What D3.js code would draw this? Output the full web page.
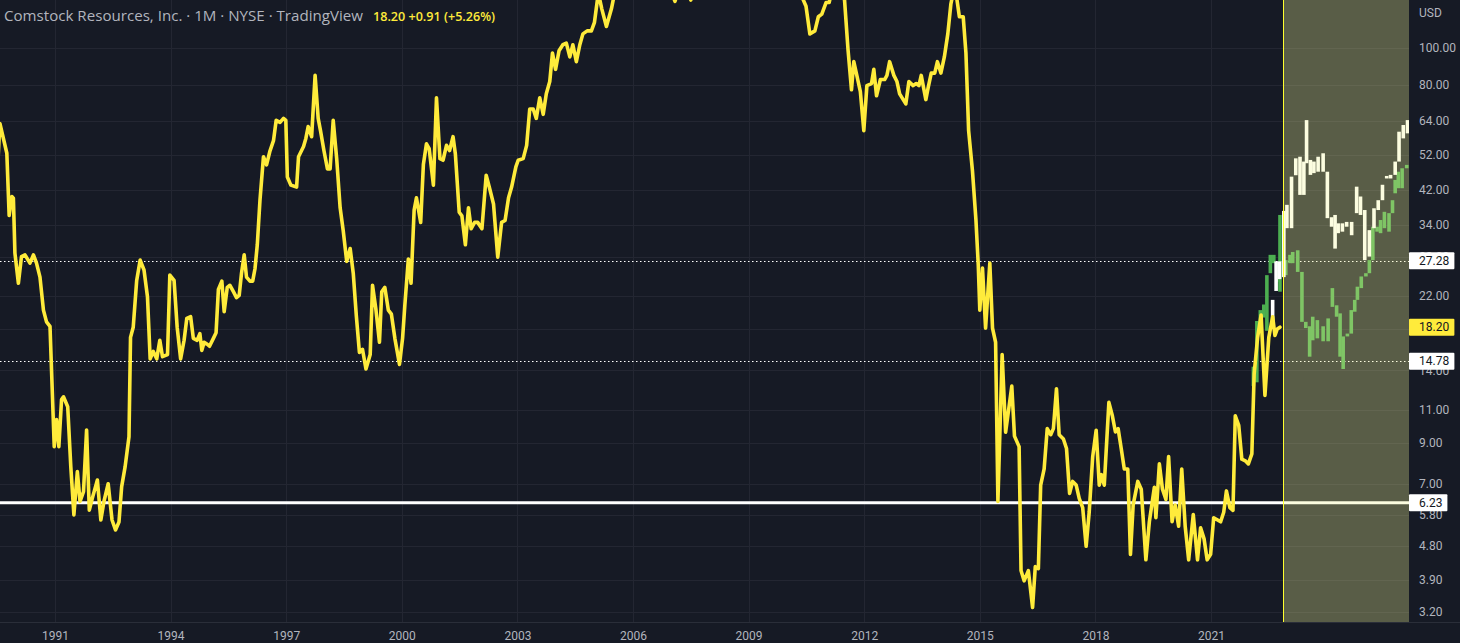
<!DOCTYPE html>
<html><head><meta charset="utf-8">
<script src="https://cdn.jsdelivr.net/npm/d3@7"></script>
<style>html,body{margin:0;padding:0;background:#161a25;overflow:hidden}</style>
</head><body>
<svg id="c" width="1460" height="643"></svg>
<script>
// ---- data (decimal years, USD) ----
const priceDates = [1989.49,1989.57,1989.75,1989.81,1989.88,1989.92,1989.96,1990.05,1990.13,1990.22,1990.35,1990.44,1990.52,1990.61,1990.70,1990.78,1990.87,1990.98,1991.04,1991.10,1991.17,1991.22,1991.33,1991.41,1991.49,1991.58,1991.65,1991.74,1991.82,1991.89,1991.98,1992.10,1992.19,1992.27,1992.38,1992.48,1992.57,1992.66,1992.73,1992.82,1992.92,1992.96,1993.03,1993.12,1993.21,1993.31,1993.40,1993.47,1993.55,1993.64,1993.72,1993.79,1993.92,1993.98,1994.09,1994.17,1994.26,1994.35,1994.42,1994.52,1994.59,1994.69,1994.76,1994.81,1994.87,1994.95,1995.01,1995.11,1995.18,1995.24,1995.33,1995.39,1995.47,1995.54,1995.63,1995.71,1995.78,1995.84,1995.91,1995.97,1996.06,1996.13,1996.19,1996.25,1996.32,1996.41,1996.49,1996.58,1996.67,1996.74,1996.84,1996.93,1996.99,1997.03,1997.12,1997.27,1997.32,1997.45,1997.51,1997.57,1997.66,1997.75,1997.83,1997.89,1997.98,1998.07,1998.14,1998.22,1998.31,1998.40,1998.48,1998.57,1998.66,1998.74,1998.82,1998.90,1998.98,1999.07,1999.18,1999.24,1999.33,1999.42,1999.48,1999.56,1999.65,1999.73,1999.82,1999.94,2000.02,2000.08,2000.17,2000.24,2000.32,2000.38,2000.49,2000.56,2000.64,2000.71,2000.82,2000.90,2000.99,2001.07,2001.16,2001.24,2001.33,2001.39,2001.49,2001.56,2001.65,2001.73,2001.80,2001.89,2001.97,2002.08,2002.19,2002.27,2002.38,2002.49,2002.59,2002.68,2002.77,2002.85,2002.96,2003.02,2003.15,2003.24,2003.32,2003.41,2003.49,2003.58,2003.67,2003.75,2003.84,2003.91,2003.99,2004.08,2004.18,2004.27,2004.36,2004.44,2004.53,2004.62,2004.70,2004.81,2004.92,2005.00,2005.10,2005.19,2005.31,2005.44,2005.53,2005.65,2005.75,2005.90,2006.05,2006.25,2006.45,2006.65,2006.85,2007.00,2007.09,2007.20,2007.35,2007.50,2007.65,2007.85,2008.05,2008.25,2008.45,2008.60,2008.75,2008.90,2009.05,2009.20,2009.40,2009.60,2009.80,2010.00,2010.20,2010.38,2010.49,2010.59,2010.72,2010.81,2010.90,2011.01,2011.09,2011.15,2011.30,2011.49,2011.58,2011.67,2011.73,2011.82,2011.90,2011.99,2012.07,2012.19,2012.25,2012.32,2012.42,2012.53,2012.59,2012.66,2012.77,2012.85,2012.92,2013.08,2013.16,2013.27,2013.35,2013.42,2013.48,2013.60,2013.66,2013.74,2013.83,2013.90,2013.99,2014.08,2014.17,2014.25,2014.31,2014.40,2014.47,2014.57,2014.64,2014.71,2014.81,2014.90,2014.96,2015.00,2015.07,2015.15,2015.26,2015.33,2015.41,2015.47,2015.58,2015.67,2015.83,2015.90,2016.02,2016.07,2016.15,2016.26,2016.37,2016.44,2016.52,2016.58,2016.67,2016.75,2016.84,2016.91,2016.99,2017.06,2017.17,2017.25,2017.33,2017.41,2017.50,2017.58,2017.67,2017.76,2017.84,2017.93,2018.02,2018.10,2018.16,2018.23,2018.35,2018.44,2018.52,2018.59,2018.67,2018.75,2018.84,2018.91,2018.98,2019.10,2019.19,2019.31,2019.40,2019.53,2019.57,2019.66,2019.74,2019.83,2019.90,2019.99,2020.07,2020.16,2020.24,2020.33,2020.42,2020.54,2020.65,2020.73,2020.82,2020.90,2020.99,2021.07,2021.16,2021.25,2021.33,2021.40,2021.49,2021.57,2021.63,2021.72,2021.80,2021.89,2021.97,2022.06,2022.12,2022.21,2022.30,2022.40,2022.50,2022.60,2022.66,2022.72,2022.79];
const priceValues = [44,63.1,52.6,36.0,40.4,40.0,28.6,23.8,28.0,28.3,26.9,28.3,26.9,24.7,20.2,18.8,18.3,8.78,10.35,8.78,11.7,11.9,11.2,7.77,5.79,7.54,6.28,6.67,9.72,5.96,6.47,7.16,5.61,6.28,7.0,5.61,5.28,5.54,6.88,7.77,9.33,17.1,18.2,24.2,27.4,25.8,21.9,15.0,15.7,15.0,16.8,15.2,15.4,25.0,24.2,18.2,15.0,16.8,19.2,19.4,17.0,16.8,17.5,15.8,16.6,16.4,16.2,17.0,17.6,22.9,24.1,20.0,23.2,23.5,22.6,21.8,22.1,25.3,28.3,24.7,24.1,24.1,26.0,30.1,39.6,51.5,49.0,53.4,56.8,64.3,63.5,65.1,64.3,45.5,43.3,42.8,51.5,54.8,57.6,61.9,58.2,84.6,65.1,60.4,53.4,47.8,47.8,64.3,50.9,37.7,32.8,27.2,29.4,25.3,19.5,15.6,15.9,14.1,15.4,23.5,20.2,16.6,22.6,23.2,20.2,19.7,17.0,14.5,17.0,20.9,27.6,23.8,37.2,40.1,34.5,49.1,55.7,54.1,43.3,73.8,50.9,50.4,55.2,53.5,58.2,52.4,36.7,35.9,30.1,37.7,33.2,34.5,34.5,33.2,46.0,42.8,38.6,27.9,34.5,34.9,40.1,42.8,48.4,50.4,50.9,55.2,68.9,68.9,65.1,73.8,66.7,75.6,81.5,97.0,87.8,98.3,102,103,94.7,102,92.0,102,109,111,111,117,140,127,114,127,141,165,180,150,145,160,150,142,150,140,133,145,150,134,150,175,190,280,420,300,220,170,160,145,170,180,200,170,150,137,129,109,111,121,123,132,132,140,150,134,99,77.5,92.0,83.6,76.6,60.4,79.5,80.5,87.8,74.7,82.5,82.5,84.6,92.0,84.6,81.5,75.6,71.1,81.5,79.5,80.5,79.5,84.6,73.0,78.5,85.8,85.8,92.0,85.8,94.7,109,131,140,136,121,121,97.0,60.4,47.2,35.0,26.6,20.2,26.1,18.1,26.9,18.1,16.6,6.28,15.4,9.59,12.7,9.36,8.78,4.12,3.87,4.12,3.29,4.22,4.17,6.94,7.66,9.80,9.44,9.80,12.5,9.44,9.2,8.68,6.6,7.1,6.95,6.4,6.05,4.78,5.9,8.26,9.7,6.94,7.4,6.94,11.5,10.6,9.6,9.8,8.68,7.66,7.66,4.55,6.15,7.1,6.77,4.4,5.55,6.85,5.69,7.9,6.77,6.36,8.26,5.55,6.15,5.4,7.66,5.4,4.4,5.8,4.4,5.35,5.0,4.4,4.55,5.69,5.62,5.55,5.88,6.7,6.05,5.95,10.6,10.0,8.13,8.05,7.9,8.4,13.7,17.1,19.6,12.0,17.1,19.4,17.3,18.0,18.2];

const whiteDates = [2022.60,2022.69,2022.78,2022.89,2022.97,2023.09,2023.20,2023.31,2023.41,2023.48,2023.58,2023.67,2023.78,2023.91,2024.02,2024.13,2024.22,2024.30,2024.41,2024.52,2024.65,2024.78,2024.88,2024.99,2025.11,2025.23,2025.34,2025.45,2025.56,2025.66,2025.78,2025.88,2025.99,2026.10];
const whiteHigh  = [21.5,27.2,27.2,37.0,38.4,45.6,51.0,51.5,50.0,64.4,50.5,50.0,51.5,52.6,47.0,35.6,36.1,34.3,34.3,34.6,34.6,42.9,40.4,37.2,32.9,37.6,39.5,43.4,45.8,46.1,50.0,60.0,62.5,64.4];
const whiteLow   = [18.3,22.7,24.4,24.7,33.3,33.3,46.0,40.8,40.8,49.5,46.1,46.6,47.0,47.0,35.4,33.6,29.4,32.3,32.6,33.6,31.9,36.5,36.1,27.4,28.0,33.3,37.2,39.5,45.1,45.1,46.1,50.0,57.6,59.4];

const greenDates = [2022.10,2022.19,2022.28,2022.37,2022.45,2022.54,2022.63,2022.71,2022.79,2022.94,2023.05,2023.12,2023.25,2023.36,2023.46,2023.56,2023.64,2023.76,2023.91,2024.04,2024.15,2024.26,2024.35,2024.43,2024.54,2024.64,2024.73,2024.80,2024.90,2025.02,2025.11,2025.20,2025.31,2025.40,2025.50,2025.62,2025.71,2025.78,2025.86,2025.96,2026.08];
const greenHigh  = [14.3,18.9,20.2,20.9,25.0,28.3,28.3,27.0,36.1,27.4,28.3,28.8,29.1,25.5,18.8,18.3,19.4,19.0,18.3,19.2,23.1,20.8,19.8,17.2,17.5,20.2,21.5,23.3,24.8,25.3,27.4,33.6,33.6,35.0,36.8,36.5,39.5,44.7,47.0,48.0,49.0];
const greenLow   = [12.7,13.0,18.6,19.3,17.8,25.3,26.9,24.0,22.6,25.0,26.9,26.9,25.5,18.8,18.1,15.2,16.8,17.0,16.7,16.7,20.6,19.4,15.2,14.1,17.2,17.5,20.0,21.5,23.1,24.8,25.3,27.4,32.6,32.3,33.3,32.6,36.5,41.2,42.5,42.5,48.0];

const yTicks = [100,80,64,52,42,34,28,22,18,14,11,9,7,5.8,4.8,3.9,3.2];
const xTickYears = [1991,1994,1997,2000,2003,2006,2009,2012,2015,2018,2021];
const solidLevels = [6.23];
const dottedLevels = [27.28, 14.78];
const lastPrice = 18.20;
const projectionStart = 2022.86;
const titleMain = "Comstock Resources, Inc. · 1M · NYSE · TradingView";
const titleQuote = "18.20  +0.91  (+5.26%)";

// ---- layout ----
const W = 1409, H = 622;
const BG = "#161a25", GRID = "#232632", TXT = "#b2b5be", YEL = "#ffeb3b";
const svg = d3.select("#c");
const x = d3.scaleLinear().domain([1991, 2021]).range([55, 1211]);
const y = d3.scaleLog().domain([3.2, 100]).range([612, 48]);

svg.append("rect").attr("width",1460).attr("height",643).attr("fill",BG);
svg.append("defs").append("clipPath").attr("id","plot")
   .append("rect").attr("width",W).attr("height",H);
const plot = svg.append("g").attr("clip-path","url(#plot)");

// grid
plot.append("g").selectAll("line").data(yTicks).join("line")
  .attr("x1",0).attr("x2",W)
  .attr("y1",d=>Math.round(y(d))+0.5).attr("y2",d=>Math.round(y(d))+0.5)
  .attr("stroke",GRID).attr("stroke-width",1);
plot.append("g").selectAll("line").data(xTickYears).join("line")
  .attr("y1",0).attr("y2",H)
  .attr("x1",d=>Math.round(x(d))+0.5).attr("x2",d=>Math.round(x(d))+0.5)
  .attr("stroke",GRID).attr("stroke-width",1);

// levels
plot.append("g").selectAll("line").data(dottedLevels).join("line")
  .attr("x1",0).attr("x2",W)
  .attr("y1",d=>Math.round(y(d))+0.5).attr("y2",d=>Math.round(y(d))+0.5)
  .attr("stroke","#ffffff").attr("stroke-width",1).attr("stroke-dasharray","1.5,2.5");
plot.append("g").selectAll("line").data(solidLevels).join("line")
  .attr("x1",0).attr("x2",W)
  .attr("y1",d=>y(d)).attr("y2",d=>y(d))
  .attr("stroke","#ffffff").attr("stroke-width",3);

// projection bars
function bars(dates, hi, lo, color){
  const g = plot.append("g");
  g.selectAll("rect").data(dates.map((d,i)=>({t:d,h:hi[i],l:lo[i]}))).join("rect")
    .attr("x",d=>x(d.t)-1.8).attr("width",3.6)
    .attr("y",d=>y(d.h)).attr("height",d=>Math.max(2, y(d.l)-y(d.h)))
    .attr("fill",color);
}
bars(greenDates, greenHigh, greenLow, "#4caf50");
bars(whiteDates, whiteHigh, whiteLow, "#ffffff");

// price line
const pts = priceDates.map((d,i)=>[d, priceValues[i]]);
plot.append("path").datum(pts)
  .attr("d", d3.line().x(d=>x(d[0])).y(d=>y(d[1])))
  .attr("fill","none").attr("stroke",YEL).attr("stroke-width",3.6)
  .attr("stroke-linejoin","round").attr("stroke-linecap","round");

// projection overlay
const px = Math.round(x(projectionStart));
plot.append("rect").attr("x",px).attr("y",0).attr("width",W-px).attr("height",H)
  .attr("fill","rgb(246,247,153)").attr("fill-opacity",0.30);
plot.append("line").attr("x1",px+0.5).attr("x2",px+0.5).attr("y1",0).attr("y2",H)
  .attr("stroke","#ffff2e").attr("stroke-width",1);

// borders
svg.append("line").attr("x1",0).attr("x2",1460).attr("y1",H+0.5).attr("y2",H+0.5).attr("stroke","#2a2e39");

// right axis
const ya = svg.append("g").attr("transform",`translate(${W},0)`)
  .call(d3.axisRight(y).tickValues(yTicks).tickFormat(d3.format(".2f")).tickSize(0).tickPadding(10));
ya.select(".domain").remove();
ya.selectAll("text").attr("fill",TXT).attr("font-size",12).attr("font-family","Roboto, 'Liberation Sans', sans-serif");
svg.append("text").attr("x",W+10).attr("y",17).text("USD")
  .attr("fill",TXT).attr("font-size",12).attr("font-family","Roboto, 'Liberation Sans', sans-serif");

// bottom axis
const xa = svg.append("g").attr("transform",`translate(0,${H})`)
  .call(d3.axisBottom(x).tickValues(xTickYears).tickFormat(d3.format("d")).tickSize(0).tickPadding(9));
xa.select(".domain").remove();
xa.selectAll("text").attr("fill",TXT).attr("font-size",12).attr("font-family","Roboto, 'Liberation Sans', sans-serif");

// price labels
const labels = [
  {v:dottedLevels[0], bg:"#ffffff", fg:"#131722"},
  {v:lastPrice, bg:YEL, fg:"#131722"},
  {v:dottedLevels[1], bg:"#ffffff", fg:"#131722"},
  {v:solidLevels[0], bg:"#ffffff", fg:"#131722"}
];
labels.forEach(l=>{
  const g = svg.append("g");
  const r = g.append("rect").attr("x",W).attr("y",y(l.v)-8.5).attr("height",17).attr("fill",l.bg).attr("rx",1);
  const t = g.append("text").attr("x",W+10).attr("y",y(l.v)).attr("dy","0.35em")
    .text(d3.format(".2f")(l.v)).attr("fill",l.fg).attr("font-size",12)
    .attr("font-family","Roboto, 'Liberation Sans', sans-serif");
  const bb = t.node().getBBox();
  r.attr("width", bb.x + bb.width + 5 - W);
});

// title
svg.append("text").attr("x",4).attr("y",21).text(titleMain)
  .attr("fill",TXT).attr("font-size",14).attr("font-family","'Open Sans', sans-serif")
  .attr("textLength",359).attr("lengthAdjust","spacingAndGlyphs");
svg.append("text").attr("x",373).attr("y",21).text(titleQuote)
  .attr("fill",YEL).attr("font-size",13).attr("font-weight",600).attr("font-family","'Open Sans', sans-serif")
  .attr("textLength",122).attr("lengthAdjust","spacingAndGlyphs");
</script>
</body></html>
